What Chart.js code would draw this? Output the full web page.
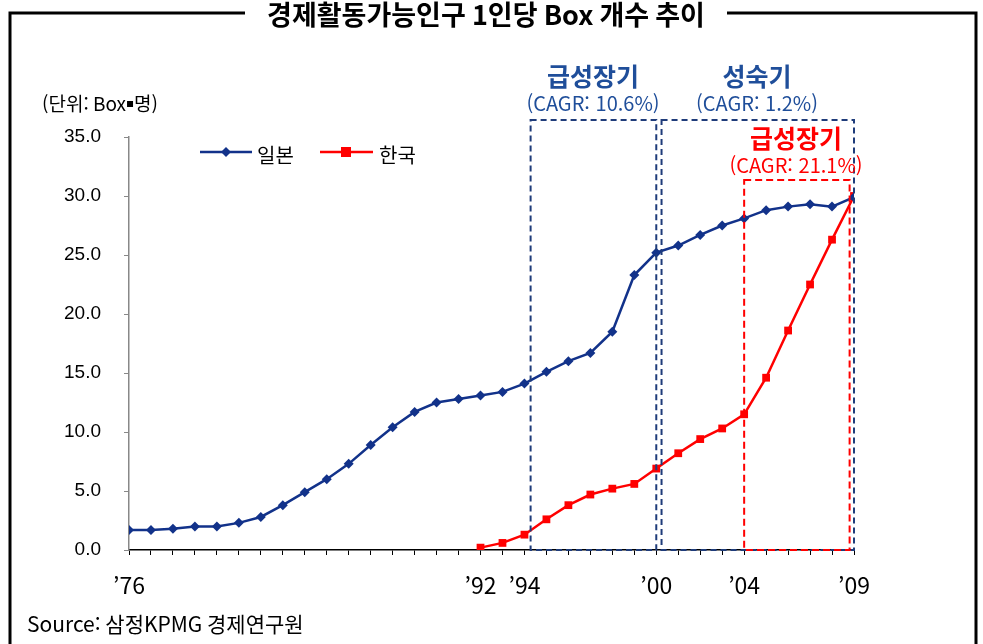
<!DOCTYPE html>
<html lang="ko">
<head>
<meta charset="UTF-8" />
<title>경제활동가능인구 1인당 Box 개수 추이</title>
<script src="https://cdn.jsdelivr.net/npm/chart.js"></script>
<style>
  html, body { margin: 0; padding: 0; background: #fff; }
  canvas { display: block; }
</style>
</head>
<body>
<canvas id="chart" width="983" height="644"></canvas>

<script>
    // 연도 (1976 ~ 2009)
    const years = [];
    for (let y = 1976; y <= 2009; y++) years.push(y);

    // 일본: 1976~2009
    const japan = [1.7, 1.7, 1.8, 2.0, 2.0, 2.3, 2.8, 3.8, 4.9, 6.0,
                   7.3, 8.9, 10.4, 11.7, 12.5, 12.8, 13.1, 13.4, 14.1, 15.1,
                   16.0, 16.7, 18.5, 23.3, 25.2, 25.8, 26.7, 27.5, 28.1, 28.8,
                   29.1, 29.3, 29.1, 29.9];

    // 한국: 1992~2009
    const koreaStart = 1992;
    const korea = [0.2, 0.6, 1.3, 2.6, 3.8, 4.7, 5.2, 5.6, 6.9, 8.2,
                   9.4, 10.3, 11.5, 14.6, 18.6, 22.5, 26.3, 30.0];

    const labeledYears = [1976, 1992, 1994, 2000, 2004, 2009];
    const yTicks = [0, 5, 10, 15, 20, 25, 30, 35];

    // 구간 표시 (연도, 값)
    const periods = [
        { from: 1994.28, to: 2000.0, top: 36.45, color: '#1F3C7A', title: '급성장기', cagr: '(CAGR: 10.6%)' },
        { from: 2000.24, to: 2009.0, top: 36.45, color: '#1F3C7A', title: '성숙기', cagr: '(CAGR: 1.2%)' },
        { from: 2004.0, to: 2008.8, top: 31.35, color: '#FF0000', title: '급성장기', cagr: '(CAGR: 21.1%)' }
    ];

    const NAVY = '#12328A';
    const RED = '#FF0000';
    const KFONT = '"Noto Sans CJK KR", "Noto Sans", sans-serif';

    const japanPts = japan.map((v, i) => ({ x: years[i], y: v }));
    const koreaPts = korea.map((v, i) => ({ x: koreaStart + i, y: v }));

    const decorations = {
        id: 'decorations',
        afterDatasetsDraw(chart) {
            const ctx = chart.ctx;
            const xs = chart.scales.x, ys = chart.scales.y;
            ctx.save();

            // dashed period boxes
            ctx.lineWidth = 2;
            periods.forEach(p => {
                const l = xs.getPixelForValue(p.from), r = xs.getPixelForValue(p.to);
                const t = ys.getPixelForValue(p.top), b = ys.getPixelForValue(0);
                ctx.strokeStyle = p.color;
                ctx.setLineDash(p.color === RED ? [7, 4] : [6, 4]);
                ctx.strokeRect(l, t, r - l, b - t);
            });
            ctx.setLineDash([]);

            // period labels
            ctx.textAlign = 'center';
            ctx.textBaseline = 'middle';
            const lab = [
                { x: 593, y: 76, y2: 103, c: '#1F4E9A' },
                { x: 757, y: 76, y2: 103, c: '#1F4E9A' },
                { x: 796, y: 138, y2: 165, c: RED }
            ];
            periods.forEach((p, i) => {
                ctx.fillStyle = lab[i].c;
                ctx.font = 'bold 25px ' + KFONT;
                ctx.fillText(p.title, lab[i].x, lab[i].y);
                ctx.font = '20px ' + KFONT;
                ctx.fillText(p.cagr, lab[i].x, lab[i].y2);
            });

            // legend
            ctx.lineWidth = 2.5;
            ctx.strokeStyle = NAVY;
            ctx.beginPath(); ctx.moveTo(200, 152); ctx.lineTo(252, 152); ctx.stroke();
            ctx.fillStyle = NAVY;
            ctx.beginPath();
            ctx.moveTo(226, 147); ctx.lineTo(231, 152); ctx.lineTo(226, 157); ctx.lineTo(221, 152);
            ctx.closePath(); ctx.fill();
            ctx.strokeStyle = RED;
            ctx.beginPath(); ctx.moveTo(320, 152); ctx.lineTo(373, 152); ctx.stroke();
            ctx.fillStyle = RED;
            ctx.fillRect(341, 147, 10, 10);
            ctx.fillStyle = '#000';
            ctx.font = '20px ' + KFONT;
            ctx.textAlign = 'left';
            ctx.fillText('일본', 257, 155);
            ctx.fillText('한국', 379, 155);

            // unit
            ctx.font = '19px ' + KFONT;
            const u1 = '(단위: Box';
            ctx.fillText(u1, 42, 104);
            const w1 = ctx.measureText(u1).width;
            ctx.fillRect(42 + w1 + 1, 101, 6, 6);
            ctx.fillText('명)', 42 + w1 + 8, 104);

            // source
            ctx.font = '21px ' + KFONT;
            ctx.fillText('Source: 삼정KPMG 경제연구원', 27, 624);

            // frame + title
            ctx.font = 'bold 27px ' + KFONT;
            ctx.textAlign = 'center';
            ctx.fillText('경제활동가능인구 1인당 Box 개수 추이', 486, 15);
            ctx.lineWidth = 3;
            ctx.strokeStyle = '#000';
            ctx.beginPath();
            ctx.moveTo(245, 13); ctx.lineTo(10, 13); ctx.lineTo(10, 650);
            ctx.moveTo(727, 13); ctx.lineTo(976, 13); ctx.lineTo(976, 650);
            ctx.stroke();

            ctx.restore();
        }
    };

    new Chart(document.getElementById('chart'), {
        type: 'line',
        data: {
            datasets: [
                {
                    label: '일본',
                    data: japanPts,
                    borderColor: NAVY,
                    backgroundColor: NAVY,
                    borderWidth: 2.5,
                    pointStyle: 'rectRot',
                    pointRadius: 5,
                    pointBorderWidth: 0,
                    tension: 0
                },
                {
                    label: '한국',
                    data: koreaPts,
                    borderColor: RED,
                    backgroundColor: RED,
                    borderWidth: 2.5,
                    pointStyle: 'rect',
                    pointRadius: 5.5,
                    pointBorderWidth: 0,
                    tension: 0
                }
            ]
        },
        options: {
            responsive: false,
            animation: false,
            layout: { padding: { top: 137, right: 129, left: 0, bottom: 0 } },
            plugins: {
                legend: { display: false },
                tooltip: { enabled: false }
            },
            scales: {
                x: {
                    type: 'linear',
                    min: 1976,
                    max: 2009,
                    afterFit(scale) { scale.height = 94; },
                    afterBuildTicks(scale) {
                        scale.ticks = years.map(v => ({ value: v }));
                    },
                    ticks: {
                        autoSkip: false,
                        maxRotation: 0,
                        padding: 16,
                        color: '#000',
                        font: { family: KFONT, size: 23 },
                        callback: v => labeledYears.includes(v) ? '’' + String(v).slice(2) : ''
                    },
                    grid: { drawOnChartArea: false, drawTicks: true, tickLength: 5, color: '#000', lineWidth: 1 },
                    border: { color: '#000', width: 1.5 }
                },
                y: {
                    min: 0,
                    max: 35,
                    afterFit(scale) { scale.width = 129; },
                    afterBuildTicks(scale) {
                        scale.ticks = yTicks.map(v => ({ value: v }));
                    },
                    ticks: {
                        padding: 23,
                        color: '#000',
                        font: { family: '"Liberation Sans", Arial, sans-serif', size: 19 },
                        callback: v => v.toFixed(1)
                    },
                    grid: { drawOnChartArea: false, drawTicks: true, tickLength: 5, color: '#888' },
                    border: { color: '#888', width: 1.5 }
                }
            }
        },
        plugins: [decorations]
    });
</script>
</body>
</html>
